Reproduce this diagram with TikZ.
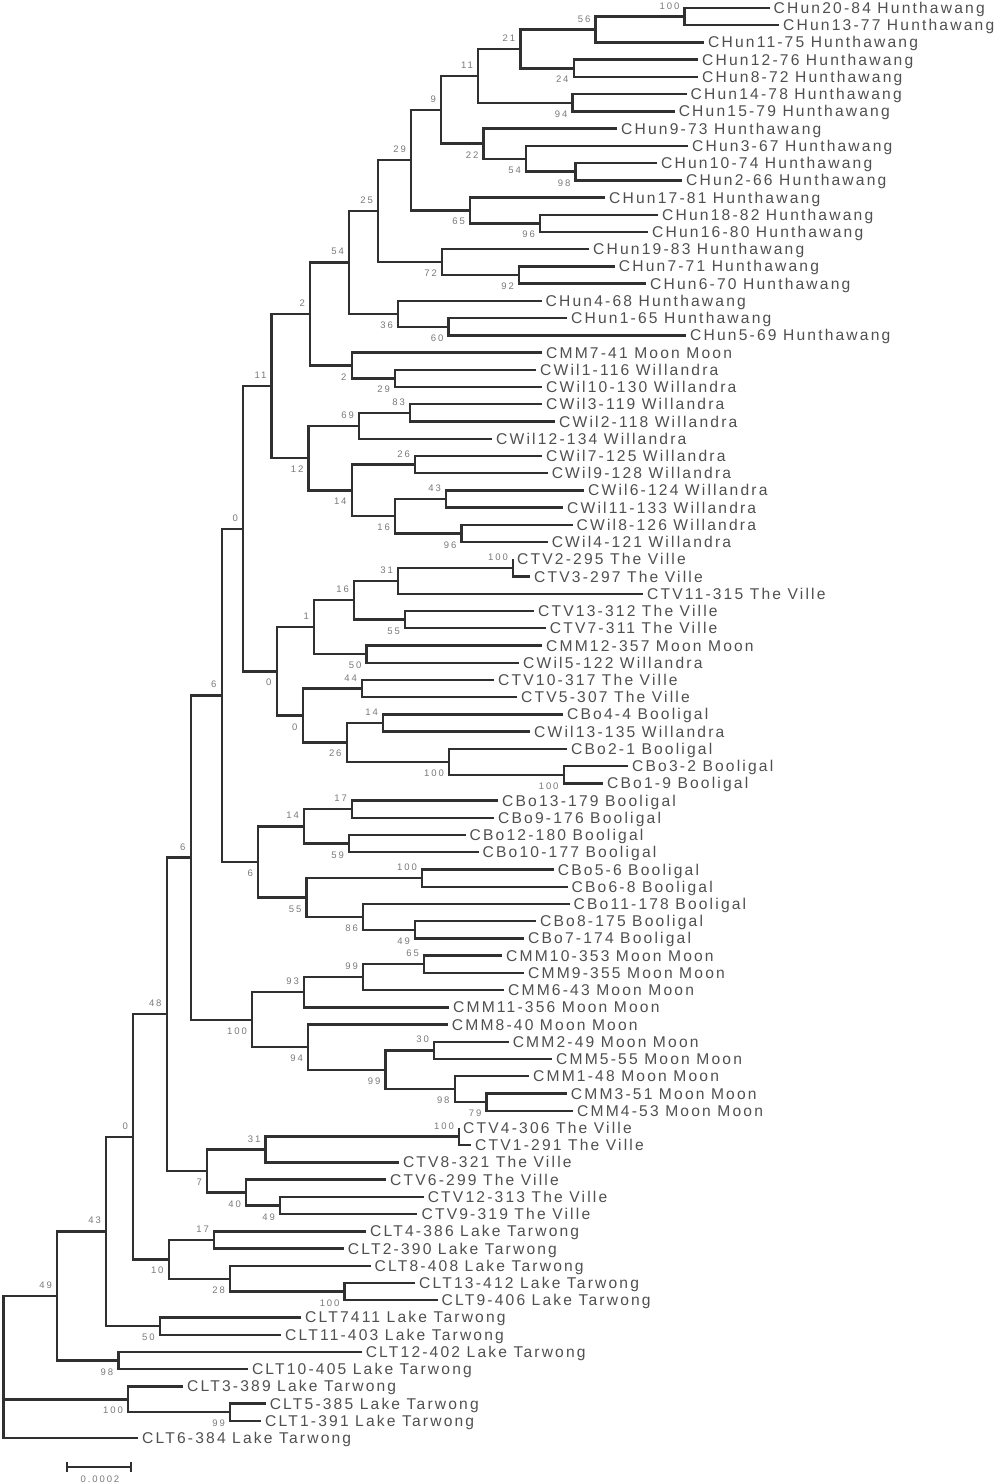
\documentclass[tikz,border=0pt]{standalone}
\usepackage{fontspec}
\setmainfont{Liberation Sans}
\newfontfamily\leaffamily[LetterSpace=14]{Liberation Sans}
\newfontfamily\bsfamily[LetterSpace=20]{Liberation Sans}
\usetikzlibrary{calc}
\definecolor{linec}{HTML}{303030}
\definecolor{leafc}{HTML}{505050}
\definecolor{bsc}{HTML}{7A7A7A}
\tikzset{
  branch/.style={draw=linec, line width=2.4pt},
  leaflabel/.style={anchor=west, inner sep=0pt, text height=11pt, text depth=0pt, text=leafc, font=\leaffamily\fontsize{15.6}{17}\selectfont},
  bslabel/.style={anchor=base east, inner sep=0pt, text=bsc, font=\bsfamily\fontsize{9.5}{11}\selectfont},
}
\newcommand\lf[4]{%
  \coordinate (#1) at (#3, {8+(#2-1)*17.23});
  \node[leaflabel] (#1t) at ([xshift=4pt]#1) {#4};
}
\newcommand\inode[6]{%
  \path let \p1=(#3), \p2=(#4) in (#2pt, {0.5*\y1+0.5*\y2}) coordinate (#1);
  \draw[branch] (#3) -| (#1) |- (#4);
  \ifx a#6
    \node[bslabel] (#1lbl) at ([xshift=-5pt, yshift=7.5pt]#1) {#5};
  \else
    \node[bslabel] (#1lbl) at ([xshift=-5pt, yshift=-14.5pt]#1) {#5};
  \fi
}
\begin{document}
\begin{tikzpicture}[x=1pt, y=-1pt]
\fill[white] (0,0) rectangle (1000,1484);
\useasboundingbox (0,0) rectangle (1000,1484);
% leaves
\lf{L1}{1}{769.5}{CHun20-84 Hunthawang}
\lf{L2}{2}{779}{CHun13-77 Hunthawang}
\lf{L3}{3}{704}{CHun11-75 Hunthawang}
\lf{L4}{4}{698}{CHun12-76 Hunthawang}
\lf{L5}{5}{698}{CHun8-72 Hunthawang}
\lf{L6}{6}{686.5}{CHun14-78 Hunthawang}
\lf{L7}{7}{674.6}{CHun15-79 Hunthawang}
\lf{L8}{8}{617}{CHun9-73 Hunthawang}
\lf{L9}{9}{688}{CHun3-67 Hunthawang}
\lf{L10}{10}{657}{CHun10-74 Hunthawang}
\lf{L11}{11}{682}{CHun2-66 Hunthawang}
\lf{L12}{12}{605}{CHun17-81 Hunthawang}
\lf{L13}{13}{658}{CHun18-82 Hunthawang}
\lf{L14}{14}{648}{CHun16-80 Hunthawang}
\lf{L15}{15}{589}{CHun19-83 Hunthawang}
\lf{L16}{16}{614.7}{CHun7-71 Hunthawang}
\lf{L17}{17}{646}{CHun6-70 Hunthawang}
\lf{L18}{18}{541.5}{CHun4-68 Hunthawang}
\lf{L19}{19}{567}{CHun1-65 Hunthawang}
\lf{L20}{20}{686}{CHun5-69 Hunthawang}
\lf{L21}{21}{542}{CMM7-41 Moon Moon}
\lf{L22}{22}{536}{CWil1-116 Willandra}
\lf{L23}{23}{542}{CWil10-130 Willandra}
\lf{L24}{24}{542}{CWil3-119 Willandra}
\lf{L25}{25}{555}{CWil2-118 Willandra}
\lf{L26}{26}{492}{CWil12-134 Willandra}
\lf{L27}{27}{542}{CWil7-125 Willandra}
\lf{L28}{28}{547.6}{CWil9-128 Willandra}
\lf{L29}{29}{584}{CWil6-124 Willandra}
\lf{L30}{30}{563}{CWil11-133 Willandra}
\lf{L31}{31}{572.5}{CWil8-126 Willandra}
\lf{L32}{32}{547.6}{CWil4-121 Willandra}
\lf{L33}{33}{513}{CTV2-295 The Ville}
\lf{L34}{34}{530}{CTV3-297 The Ville}
\lf{L35}{35}{643}{CTV11-315 The Ville}
\lf{L36}{36}{534}{CTV13-312 The Ville}
\lf{L37}{37}{545.7}{CTV7-311 The Ville}
\lf{L38}{38}{542}{CMM12-357 Moon Moon}
\lf{L39}{39}{519}{CWil5-122 Willandra}
\lf{L40}{40}{494}{CTV10-317 The Ville}
\lf{L41}{41}{517}{CTV5-307 The Ville}
\lf{L42}{42}{563}{CBo4-4 Booligal}
\lf{L43}{43}{530}{CWil13-135 Willandra}
\lf{L44}{44}{567}{CBo2-1 Booligal}
\lf{L45}{45}{628}{CBo3-2 Booligal}
\lf{L46}{46}{603}{CBo1-9 Booligal}
\lf{L47}{47}{498}{CBo13-179 Booligal}
\lf{L48}{48}{494}{CBo9-176 Booligal}
\lf{L49}{49}{465.5}{CBo12-180 Booligal}
\lf{L50}{50}{478.5}{CBo10-177 Booligal}
\lf{L51}{51}{553.7}{CBo5-6 Booligal}
\lf{L52}{52}{567.5}{CBo6-8 Booligal}
\lf{L53}{53}{569.5}{CBo11-178 Booligal}
\lf{L54}{54}{536}{CBo8-175 Booligal}
\lf{L55}{55}{524}{CBo7-174 Booligal}
\lf{L56}{56}{502}{CMM10-353 Moon Moon}
\lf{L57}{57}{524}{CMM9-355 Moon Moon}
\lf{L58}{58}{504}{CMM6-43 Moon Moon}
\lf{L59}{59}{449}{CMM11-356 Moon Moon}
\lf{L60}{60}{447.7}{CMM8-40 Moon Moon}
\lf{L61}{61}{508.6}{CMM2-49 Moon Moon}
\lf{L62}{62}{552}{CMM5-55 Moon Moon}
\lf{L63}{63}{529}{CMM1-48 Moon Moon}
\lf{L64}{64}{566.7}{CMM3-51 Moon Moon}
\lf{L65}{65}{573}{CMM4-53 Moon Moon}
\lf{L66}{66}{459}{CTV4-306 The Ville}
\lf{L67}{67}{471}{CTV1-291 The Ville}
\lf{L68}{68}{398.8}{CTV8-321 The Ville}
\lf{L69}{69}{386}{CTV6-299 The Ville}
\lf{L70}{70}{423.6}{CTV12-313 The Ville}
\lf{L71}{71}{417.4}{CTV9-319 The Ville}
\lf{L72}{72}{366}{CLT4-386 Lake Tarwong}
\lf{L73}{73}{343.75}{CLT2-390 Lake Tarwong}
\lf{L74}{74}{370.5}{CLT8-408 Lake Tarwong}
\lf{L75}{75}{415}{CLT13-412 Lake Tarwong}
\lf{L76}{76}{437.5}{CLT9-406 Lake Tarwong}
\lf{L77}{77}{301}{CLT7411 Lake Tarwong}
\lf{L78}{78}{281}{CLT11-403 Lake Tarwong}
\lf{L79}{79}{361.6}{CLT12-402 Lake Tarwong}
\lf{L80}{80}{247.8}{CLT10-405 Lake Tarwong}
\lf{L81}{81}{183}{CLT3-389 Lake Tarwong}
\lf{L82}{82}{265.6}{CLT5-385 Lake Tarwong}
\lf{L83}{83}{261}{CLT1-391 Lake Tarwong}
\lf{L84}{84}{138}{CLT6-384 Lake Tarwong}
% Hunthawang
\inode{a100}{684.5}{L1}{L2}{100}{a}
\inode{a56}{595.5}{a100}{L3}{56}{a}
\inode{a24}{573.7}{L4}{L5}{24}{b}
\inode{a21}{520.4}{a56}{a24}{21}{a}
\inode{a94}{572.6}{L6}{L7}{94}{b}
\inode{a11}{478}{a21}{a94}{11}{a}
\inode{a98}{575.5}{L10}{L11}{98}{b}
\inode{a54}{526}{L9}{a98}{54}{b}
\inode{a22}{483.6}{L8}{a54}{22}{b}
\inode{a9}{441}{a11}{a22}{9}{a}
\inode{a96}{540}{L13}{L14}{96}{b}
\inode{a65}{470}{L12}{a96}{65}{b}
\inode{a29}{411}{a9}{a65}{29}{a}
\inode{a92}{519}{L16}{L17}{92}{b}
\inode{a72}{442}{L15}{a92}{72}{b}
\inode{a25}{378}{a29}{a72}{25}{a}
\inode{a60}{448.6}{L19}{L20}{60}{b}
\inode{a36}{398}{L18}{a60}{36}{b}
\inode{a54b}{349}{a25}{a36}{54}{a}
% Willandra
\inode{b29}{395}{L22}{L23}{29}{b}
\inode{b2}{351.7}{L21}{b29}{2}{b}
\inode{b2top}{310}{a54b}{b2}{2}{a}
\inode{b83}{410}{L24}{L25}{83}{a}
\inode{b69}{359}{b83}{L26}{69}{a}
\inode{b26}{415}{L27}{L28}{26}{a}
\inode{b43}{446}{L29}{L30}{43}{a}
\inode{b96}{461.5}{L31}{L32}{96}{b}
\inode{b16}{395}{b43}{b96}{16}{b}
\inode{b14}{351.7}{b26}{b16}{14}{b}
\inode{b12}{308.5}{b69}{b14}{12}{b}
\inode{b11}{271.5}{b2top}{b12}{11}{a}
% The Ville / Booligal
\inode{c100}{513}{L33}{L34}{100}{a}
\inode{c31}{398}{c100}{L35}{31}{a}
\inode{c55}{405}{L36}{L37}{55}{b}
\inode{c16}{354}{c31}{c55}{16}{a}
\inode{c50}{366.6}{L38}{L39}{50}{b}
\inode{c1}{314}{c16}{c50}{1}{a}
\inode{c44}{362}{L40}{L41}{44}{a}
\inode{c14}{383}{L42}{L43}{14}{a}
\inode{c100d}{563.7}{L45}{L46}{100}{b}
\inode{c100c}{449}{L44}{c100d}{100}{b}
\inode{c26}{346.7}{c14}{c100c}{26}{b}
\inode{c0c}{302.7}{c44}{c26}{0}{b}
\inode{c0b}{276.7}{c1}{c0c}{0}{b}
\inode{c0top}{243}{b11}{c0b}{0}{a}
% Booligal
\inode{d17}{352}{L47}{L48}{17}{a}
\inode{d59}{349}{L49}{L50}{59}{b}
\inode{d14}{304}{d17}{d59}{14}{a}
\inode{d100}{422}{L51}{L52}{100}{a}
\inode{d49}{415}{L54}{L55}{49}{b}
\inode{d86}{363}{L53}{d49}{86}{b}
\inode{d55}{306.6}{d100}{d86}{55}{b}
\inode{d6}{258}{d14}{d55}{6}{b}
\inode{e6a}{221.7}{c0top}{d6}{6}{a}
% Moon Moon
\inode{m65}{424}{L56}{L57}{65}{a}
\inode{m99}{363}{m65}{L58}{99}{a}
\inode{m93}{304}{m99}{L59}{93}{a}
\inode{m79}{486.6}{L64}{L65}{79}{b}
\inode{m98}{454.7}{L63}{m79}{98}{b}
\inode{m30}{434}{L61}{L62}{30}{a}
\inode{m99b}{385.5}{m30}{m98}{99}{b}
\inode{m94}{308}{L60}{m99b}{94}{b}
\inode{m100}{252}{m93}{m94}{100}{b}
\inode{e6b}{190.7}{e6a}{m100}{6}{a}
% The Ville
\inode{t100}{459}{L66}{L67}{100}{a}
\inode{t31}{265.5}{t100}{L68}{31}{a}
\inode{t49}{280}{L70}{L71}{49}{b}
\inode{t40}{246}{L69}{t49}{40}{b}
\inode{t7}{207}{t31}{t40}{7}{b}
\inode{e48}{166.7}{e6b}{t7}{48}{a}
% Lake Tarwong
\inode{l17}{214}{L72}{L73}{17}{a}
\inode{l100}{344.6}{L75}{L76}{100}{b}
\inode{l28}{230}{L74}{l100}{28}{b}
\inode{l10}{168.7}{l17}{l28}{10}{b}
\inode{e0}{133}{e48}{l10}{0}{a}
\inode{l50}{159.8}{L77}{L78}{50}{b}
\inode{e43}{106}{e0}{l50}{43}{a}
\inode{l98}{118.3}{L79}{L80}{98}{b}
\inode{e49}{57}{e43}{l98}{49}{a}
\inode{l99}{230}{L82}{L83}{99}{b}
\inode{l100h}{128}{L81}{l99}{100}{b}
% root
\path let \p1=(l100h) in (3.6pt,\y1) coordinate (root);
\draw[branch] (e49) -| (root) |- (L84);
\draw[branch] (root) -- (l100h);
% scale bar
\coordinate (sb1) at (67,1467);
\coordinate (sb2) at (131,1467);
\draw[branch, line width=2pt] (sb1) -- (sb2);
\draw[branch, line width=2pt] ([yshift=5pt]sb1) -- ([yshift=-5pt]sb1);
\draw[branch, line width=2pt] ([yshift=5pt]sb2) -- ([yshift=-5pt]sb2);
\node[bslabel, anchor=base] (sblbl) at (100,1482) {0.0002};
\end{tikzpicture}
\end{document}
